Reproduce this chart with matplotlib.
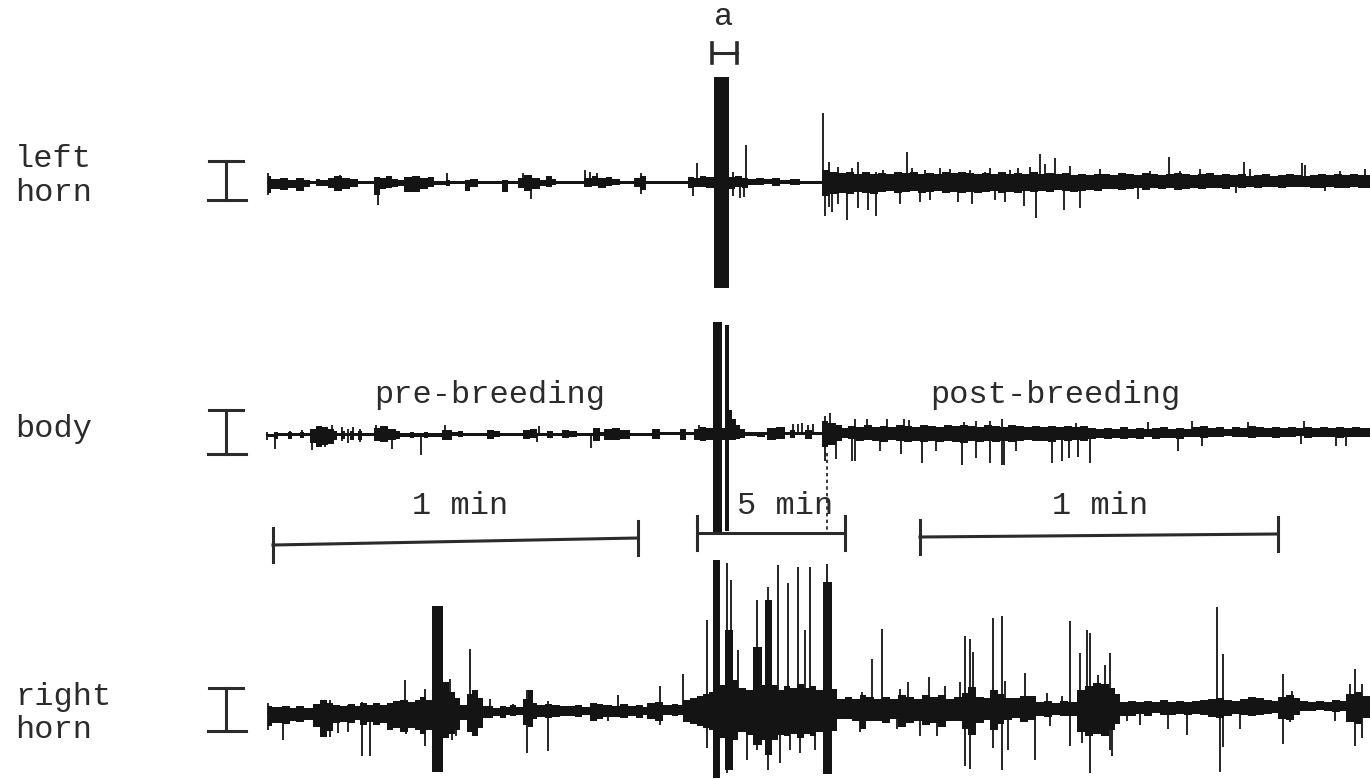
import numpy as np
import matplotlib
matplotlib.use("Agg")
import matplotlib.pyplot as plt

# recording traces: envelope steps (start, up, down) and single spikes (x, up, down)
# x in chart time units along the paper, amplitudes in the same units as the paper height
t_start, t_end = 268, 1370

lh_base = (183, 181)
lh_env = [(268,7,10),(271,4,6),(280,5,7),(288,3,5),(296,5,8),(304,3,4),(310,1.5,1.5),(316,4,3),(320,3,3),
          (328,5,5),(334,7,8),(342,5,6),(350,4,4),(358,1.5,1.5),(374,6,12),(380,5,6),(386,7,5),(392,4,4),
          (398,3,3),(404,6,9),(412,7,9),(420,5,6),(428,6,4),(434,2,2),(446,3,3),(450,1.5,1.5),(465,3,8),
          (470,4,4),(478,1.5,1.5),(502,3,9),(508,1.5,1.5),(518,5,5),(524,8,8),(532,5,6),(540,3,3),(546,6,5),
          (552,3,3),(556,1.5,1.5),(584,4,5),(592,6,4),(598,4,6),(606,5,4),(612,3,3),(620,1.5,1.5),(634,4,5),
          (640,6,8),(646,1.5,1.5),(688,5,6),(694,4,5),(700,6,5),(706,5,6),(714,105,106),(729,5,7),(735,6,5),
          (742,4,6),(748,3,3),(756,4,3),(764,3,2),(772,4,4),(780,2,2),(790,3,3),(800,1.5,1.5),
          (822,12,14),(830,10,12),(838,9,11),(846,10,12),(854,8,10),(862,10,11),(870,8,12),(878,9,10),
          (886,8,9),(894,10,11),(902,9,10),(910,10,9),(918,8,11),(926,9,10),(934,8,9),(942,10,11),(950,9,10),
          (958,10,11),(966,9,10),(974,8,11),(982,9,10),(990,8,9),(998,10,11),(1006,8,10),(1014,9,11),
          (1022,8,9),(1030,10,10),(1038,8,9),(1046,9,10),(1054,8,8),(1062,9,9),(1070,7,10),(1078,8,9),
          (1086,7,8),(1094,8,9),(1102,7,8),(1110,6,8),(1118,8,9),(1126,7,8),(1134,6,7),(1142,8,9),(1150,7,7),
          (1158,6,8),(1166,7,7),(1174,8,9),(1182,7,8),(1190,6,7),(1198,7,8),(1206,8,7),(1214,6,7),(1222,7,8),
          (1230,6,6),(1238,7,7),(1246,5,6),(1254,6,7),(1262,7,6),(1270,5,6),(1278,6,7),(1286,7,6),(1294,6,6),
          (1302,5,6),(1310,6,7),(1318,7,7),(1326,6,6),(1334,7,7),(1342,6,7),(1350,7,6),(1358,6,7)]
lh_spikes = [(268,10,12),(340,8,0),(378,0,22),(447,10,0),(523,10,0),(531,0,16),(585,12,0),(590,10,0),
             (597,9,0),(641,9,12),(693,0,14),(697,19,0),(733,10,14),(740,0,16),(744,0,15),(746,37,0),
             (823,69,0),(825,0,34),(829,20,25),(832,0,30),(838,15,22),(847,0,38),(852,14,0),(858,20,26),
             (868,0,28),(876,10,34),(883,12,0),(895,10,0),(900,0,22),(907,30,0),(912,14,0),(920,0,20),
             (925,12,0),(930,0,18),(940,14,0),(950,13,0),(958,0,20),(970,12,0),(972,0,22),(985,10,0),
             (990,14,0),(995,0,18),(1005,0,20),(1010,12,0),(1018,14,0),(1024,0,24),(1030,15,0),(1036,0,36),
             (1040,28,0),(1045,18,0),(1055,24,0),(1064,0,28),(1070,16,0),(1080,0,26),(1100,12,0),(1138,0,18),
             (1150,10,0),(1169,24,0),(1180,10,0),(1200,12,0),(1236,0,12),(1244,19,0),(1250,12,0),(1302,18,0),
             (1305,16,0),(1325,0,10),(1340,10,0),(1365,12,0)]

body_base = (435, 432)
body_env = [(267,1.5,1.5),(274,3,4),(278,1.5,1.5),(288,3,4),(292,1.5,1.5),(300,3,3),(304,1.5,1.5),(310,6,8),
            (316,9,12),(322,8,10),(328,6,9),(334,4,5),(337,1.5,1.5),(341,4,4),(345,1.5,1.5),(350,4,5),
            (354,1.5,1.5),(358,4,5),(362,1.5,1.5),(374,7,6),(380,9,7),(388,6,5),(396,4,4),(400,2,2),(410,3,3),
            (414,2,2),(424,3,3),(428,2,2),(442,5,5),(452,2,2),(458,3,3),(463,1.5,1.5),(487,4,5),(494,3,3),
            (500,1.5,1.5),(523,4,5),(530,5,4),(537,1.5,1.5),(547,3,4),(553,1.5,1.5),(562,4,4),(569,3,3),
            (577,1.5,1.5),(593,6,7),(600,2,2),(604,5,6),(612,6,6),(620,4,5),(630,1.5,1.5),(652,5,5),
            (660,1.5,1.5),(680,5,6),(686,1.5,1.5),(694,5,6),(700,7,7),(706,6,6),(713,112,100),(722,6,6),
            (725,109,97),(729,24,6),(732,15,6),(736,9,5),(740,5,4),(745,2,2),(757,2,3),(765,1.5,1.5),(767,6,6),
            (776,7,5),(785,1.5,1.5),(790,4,4),(795,1.5,1.5),(805,4,5),(812,1.5,1.5),(822,12,14),(828,10,12),
            (836,8,8),(842,5,5),(848,7,6),(856,6,8),(864,8,7),(872,6,8),(880,7,9),(888,6,7),(896,8,8),(904,7,9),
            (912,6,8),(920,8,9),(928,7,8),(936,6,9),(944,8,8),(952,7,9),(960,8,10),(968,7,8),(976,6,9),(984,8,8),
            (992,7,9),(1000,6,8),(1008,8,9),(1016,7,8),(1024,6,7),(1032,7,8),(1040,6,8),(1048,7,9),(1056,6,7),
            (1064,7,8),(1072,6,7),(1080,7,8),(1088,5,6),(1096,4,5),(1104,5,6),(1112,4,5),(1120,6,6),(1128,4,5),
            (1136,5,6),(1144,4,4),(1152,5,6),(1160,6,5),(1168,4,5),(1176,5,6),(1184,4,4),(1192,5,5),(1200,6,6),
            (1208,4,5),(1216,5,5),(1224,3,4),(1232,5,5),(1240,4,5),(1248,6,6),(1256,5,5),(1264,4,5),(1272,5,6),
            (1280,4,5),(1288,5,5),(1296,4,4),(1304,5,6),(1312,4,5),(1320,5,5),(1328,4,5),(1336,5,6),(1344,4,5),
            (1352,5,5),(1360,4,5)]
body_spikes = [(267,3,5),(275,0,14),(290,4,0),(302,5,0),(312,0,15),(325,0,12),(332,10,0),(342,8,6),(348,6,8),
               (353,8,0),(360,6,7),(376,10,6),(392,0,14),(421,0,20),(445,10,0),(537,0,8),(539,8,0),(591,0,14),
               (699,9,0),(793,10,0),(798,10,0),(802,11,0),(808,9,4),(813,10,0),(825,17,28),(830,20,0),
               (836,0,26),(852,0,28),(855,14,28),(867,14,0),(880,0,18),(887,14,0),(901,0,21),(904,14,0),
               (909,13,0),(922,0,30),(936,0,18),(962,0,32),(964,11,0),(976,12,25),(990,12,30),(1002,14,32),
               (1004,0,32),(1016,0,18),(1052,0,30),(1062,0,28),(1069,0,25),(1076,10,0),(1078,0,24),(1090,0,30),
               (1148,11,0),(1178,0,18),(1192,11,0),(1202,0,14),(1248,10,0),(1301,0,12),(1304,11,0),(1336,0,14),
               (1346,0,14)]
body_trail = [(827, 98)]

rh_base = (713, 706)
rh_env = [(268,7,13),(272,6,10),(282,7,11),(290,5,8),(296,7,9),(304,5,7),(313,9,14),(320,13,24),(327,10,18),
          (333,8,10),(340,7,9),(348,8,11),(355,6,8),(360,9,13),(367,7,10),(373,9,13),(380,7,11),(387,9,18),
          (393,11,16),(400,12,20),(408,10,16),(415,12,18),(420,15,22),(426,12,18),(432,106,60),(443,30,26),
          (449,20,22),(455,14,18),(460,7,8),(467,18,20),(472,22,24),(478,14,16),(483,6,6),(493,4,4),(500,6,6),
          (506,4,4),(510,6,5),(516,4,4),(523,12,14),(528,21,16),(533,8,8),(537,6,6),(545,7,7),(552,6,6),
          (560,5,5),(575,6,6),(582,4,4),(590,8,10),(597,7,8),(603,6,6),(612,5,6),(620,7,7),(628,5,5),(636,6,7),
          (643,4,4),(647,8,8),(655,9,10),(663,5,5),(672,6,6),(678,5,5),(683,10,12),(690,12,14),(697,14,16),
          (703,16,18),(709,18,20),(713,150,68),(720,25,28),(725,80,60),(733,30,30),(738,22,22),(746,20,25),
          (753,63,35),(762,25,30),(765,110,45),(772,25,30),(778,20,25),(784,24,26),(790,22,24),(797,26,28),
          (804,22,24),(810,24,26),(816,20,22),(823,127,65),(832,20,22),(837,10,10),(845,12,10),(852,10,12),
          (860,14,20),(866,12,12),(874,10,12),(882,12,14),(890,10,10),(898,14,18),(906,12,14),(914,10,12),
          (922,14,16),(930,12,14),(938,14,18),(946,10,12),(954,12,12),(962,16,20),(968,22,26),(976,12,14),
          (984,10,12),(990,18,22),(998,14,16),(1004,10,12),(1012,10,10),(1020,12,14),(1028,12,12),(1036,6,8),
          (1044,7,9),(1052,5,7),(1060,7,8),(1068,6,8),(1077,18,24),(1085,22,28),(1093,25,26),(1101,24,28),
          (1109,20,22),(1115,14,16),(1120,6,8),(1128,7,8),(1136,5,7),(1144,6,9),(1152,5,6),(1160,7,8),
          (1168,5,8),(1176,6,7),(1184,5,8),(1192,6,7),(1200,7,8),(1208,8,10),(1216,9,11),(1224,7,9),(1232,6,7),
          (1240,8,8),(1248,10,9),(1256,9,8),(1264,7,7),(1272,6,6),(1278,10,12),(1286,12,13),(1294,8,9),
          (1300,5,5),(1308,4,5),(1316,5,4),(1324,4,5),(1332,6,6),(1340,5,5),(1346,12,16),(1354,14,18),
          (1362,10,12)]
rh_spikes = [(268,10,17),(283,0,27),(322,13,0),(330,13,24),(338,7,20),(348,7,20),(362,10,44),(370,0,44),
             (405,32,0),(406,0,22),(425,23,34),(450,33,0),(452,0,28),(456,0,24),(470,63,0),(474,0,24),
             (490,13,0),(503,6,0),(513,7,0),(527,21,42),(548,10,40),(608,0,10),(618,16,0),(660,25,14),
             (683,36,0),(707,90,38),(715,150,67),(727,147,63),(731,130,0),(738,60,20),(747,20,50),(757,110,40),
             (768,123,60),(771,97,0),(778,145,0),(780,0,53),(788,127,0),(790,0,40),(798,143,0),(800,0,43),
             (805,80,0),(810,143,0),(815,0,40),(827,145,63),(860,0,23),(862,17,0),(872,50,0),(882,80,0),
             (897,0,20),(900,20,0),(908,27,0),(920,0,27),(929,32,0),(937,0,27),(945,23,0),(960,27,0),
             (965,73,57),(970,70,60),(973,57,0),(993,90,40),(1002,92,62),(1005,27,0),(1008,0,42),(1025,35,0),
             (1035,0,52),(1047,15,0),(1050,0,18),(1062,12,0),(1070,87,38),(1080,55,0),(1082,0,35),(1087,78,0),
             (1090,75,65),(1098,33,0),(1105,43,0),(1110,55,42),(1112,0,48),(1127,0,13),(1140,0,18),(1168,0,22),
             (1187,0,28),(1217,100,0),(1220,0,65),(1223,53,40),(1240,0,22),(1283,33,37),(1290,0,15),
             (1292,15,0),(1335,0,15),(1350,22,0),(1355,37,40),(1362,22,32)]

trace_names = [["left", "horn"], ["body"], ["right", "horn"]]
phase_labels = ["pre-breeding", "post-breeding"]
bar_start = [273, 697, 920]
bar_end = [638, 845, 1278]
bar_labels = ["1 min", "5 min", "1 min"]

ink = "#141414"
text_ink = "#2b2b2b"
mono = ["Liberation Mono", "DejaVu Sans Mono"]
fs = 23


def base_at(x, base):
    return np.interp(x, [t_start, t_end], base)


def draw_trace(ax, env, spikes, base):
    env = np.array(env, dtype=float)
    edges = np.append(env[:, 0], t_end)
    up = np.append(env[:, 1], env[-1, 1])
    dn = np.append(env[:, 2], env[-1, 2])
    b = base_at(edges, base)
    ax.fill_between(edges, b - up, b + dn, step="post", color=ink, lw=0)
    ax.plot([env[0, 0], t_end], base_at(np.array([env[0, 0], t_end]), base), color=ink, lw=1.4)
    sp = np.array(spikes, dtype=float)
    sb = base_at(sp[:, 0], base)
    ax.vlines(sp[:, 0], sb - sp[:, 1], sb + sp[:, 2], color=ink, lw=1.3)


fig = plt.figure(figsize=(13.7, 7.79), dpi=100)
ax = fig.add_axes([0, 0, 1, 1])
ax.set_xlim(0, 1370)
ax.set_ylim(779, 0)
ax.axis("off")

draw_trace(ax, lh_env, lh_spikes, lh_base)
draw_trace(ax, body_env, body_spikes, body_base)
draw_trace(ax, rh_env, rh_spikes, rh_base)
for x, d in body_trail:
    y0 = base_at(x, body_base)
    ax.vlines(x, y0 + 20, y0 + d, color=ink, lw=1.2, linestyles=(0, (2, 2)))

# trace names (text baselines) and amplitude calibration marks
name_baselines = [[167, 201], [437], [705, 738]]
cal_marks = [(161, 200), (410, 454), (688, 731)]
for names, ys, (c0, c1) in zip(trace_names, name_baselines, cal_marks):
    for nm, yb in zip(names, ys):
        ax.text(15, yb, nm, family=mono, fontsize=fs, color=text_ink, va="baseline", ha="left")
    ax.plot([226, 226], [c0, c1], color=text_ink, lw=2.2)
    ax.plot([209, 243], [c0, c0], color=text_ink, lw=2.2)
    ax.plot([208, 246], [c1, c1], color=text_ink, lw=2.2)

ax.text(490, 403, phase_labels[0], family=mono, fontsize=fs, color=text_ink, ha="center", va="baseline")
ax.text(1055, 403, phase_labels[1], family=mono, fontsize=fs, color=text_ink, ha="center", va="baseline")

# time bars
bar_y = [(545, 538), (533, 533), (537, 534)]
label_x = [460, 785, 1100]
for x0, x1, (y0, y1), lab, lx in zip(bar_start, bar_end, bar_y, bar_labels, label_x):
    ax.plot([x0, x1], [y0, y1], color=text_ink, lw=2.2)
    ax.plot([x0, x0], [y0 - 17, y0 + 17], color=text_ink, lw=2.2)
    ax.plot([x1, x1], [y1 - 17, y1 + 17], color=text_ink, lw=2.2)
    ax.text(lx, 514, lab, family=mono, fontsize=fs, color=text_ink, ha="center", va="baseline")

# marker for interval "a"
ax.plot([712, 737], [53, 53], color=text_ink, lw=2.2)
ax.plot([712, 712], [43, 63], color=text_ink, lw=2.6)
ax.plot([737, 737], [43, 63], color=text_ink, lw=2.6)
ax.text(724, 25, "a", family=mono, fontsize=fs, color=text_ink, ha="center", va="baseline")

fig.savefig("out.png", dpi=100, facecolor="white")
